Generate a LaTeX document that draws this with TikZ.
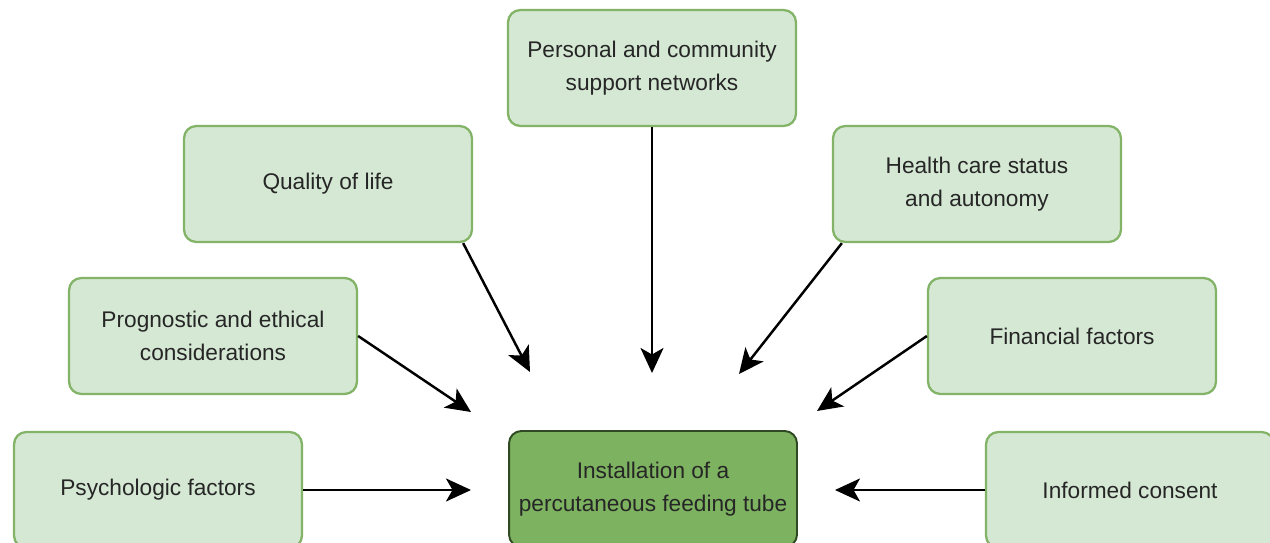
\documentclass[tikz,border=0pt]{standalone}
\usepackage{fontspec}
\setmainfont{Liberation Sans}
\usetikzlibrary{arrows.meta}
\definecolor{boxfill}{HTML}{D5E8D4}
\definecolor{boxline}{HTML}{82B366}
\definecolor{mainfill}{HTML}{7DB260}
\definecolor{mainline}{HTML}{2F4A22}
\begin{document}
\begin{tikzpicture}[x=0.02cm,y=-0.02cm,
  font=\fontsize{12.9}{19}\selectfont,
  box/.style={draw=boxline,fill=boxfill,line width=1.3pt,rounded corners=7pt,
              align=center,minimum width=5.76cm,minimum height=2.32cm,text=black!85},
  mainbox/.style={box,draw=mainline,fill=mainfill,line width=1.1pt},
  ar/.style={line width=1.4pt,-{Stealth[length=5mm,width=4.6mm,inset=1.3mm]}}]
\useasboundingbox (0,0) rectangle (1270,543);
\node[mainbox] (tube) at (653,489) {Installation of a\\percutaneous feeding tube};
\node[box] (net) at (652,68) {Personal and community\\support networks};
\node[box] (qol) at (328,184) {Quality of life};
\node[box] (care) at (977,184) {Health care status\\and autonomy};
\node[box] (prog) at (213,336) {Prognostic and ethical\\considerations};
\node[box] (fin) at (1072,336) {Financial factors};
\node[box] (psy) at (158,490) {Psychologic factors};
\node[box] (cons) at (1130,490) {Informed consent};
% free ends of the arrows, short of the main box
\coordinate (t1) at (652,373);
\coordinate (t2) at (530,372);
\coordinate (t3) at (739,374);
\coordinate (t4) at (471,412);
\coordinate (t5) at (817,411);
\coordinate (t6) at (471,490);
\coordinate (t7) at (835,490);
\draw[ar] (net) -- (t1);
\draw[ar] ([xshift=-0.2cm]qol.south east) -- (t2);
\draw[ar] ([xshift=0.2cm]care.south west) -- (t3);
\draw[ar] (prog.east) -- (t4);
\draw[ar] (fin.west) -- (t5);
\draw[ar] (psy) -- (t6);
\draw[ar] (cons) -- (t7);
\end{tikzpicture}
\end{document}
